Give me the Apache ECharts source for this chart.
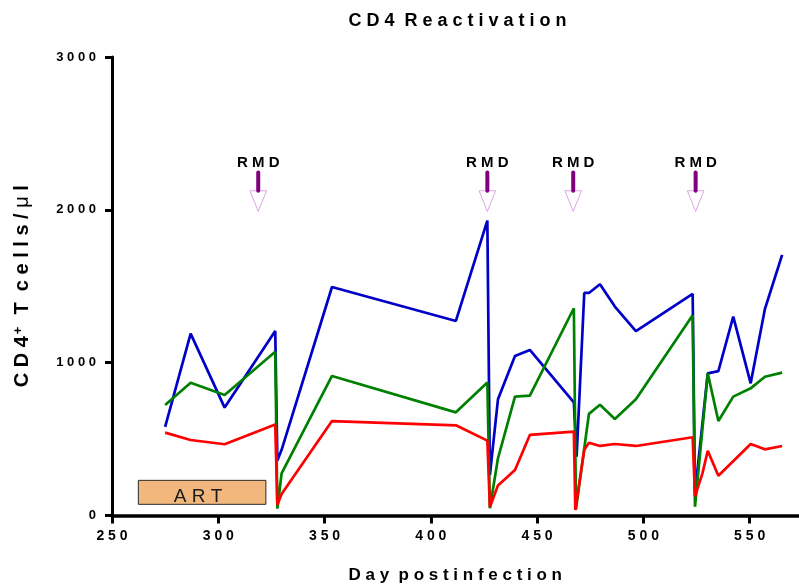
<!DOCTYPE html>
<html>
<head>
<meta charset="utf-8">
<title>CD4 Reactivation</title>
<script src="https://cdn.jsdelivr.net/npm/echarts@6/dist/echarts.min.js"></script>
<style>
  html, body { margin: 0; padding: 0; background: #fff; }
  #chart { width: 799px; height: 587px; }
</style>
</head>
<body>
<div id="chart"></div>
<script>
// CD4+ T cell counts per animal, [day postinfection, cells/µl]
const cd4Blue = [
  [275, 580], [287, 1190], [303, 706], [326.8, 1207], [327.8, 360], [329.8, 430],
  [353.5, 1495], [411.8, 1273], [426.6, 1930], [427.8, 265], [431.6, 760],
  [439.6, 1043], [446.6, 1083], [467.3, 740], [468.6, 385], [472.2, 1456],
  [474.4, 1456], [479.6, 1513], [486.6, 1367], [496.5, 1207], [523.2, 1450],
  [524.3, 145], [530.3, 930], [535.3, 945], [542.3, 1301], [550.5, 865],
  [557.2, 1351], [565.3, 1705]
];
const cd4Green = [
  [275, 723], [287, 869], [303, 789], [326.8, 1072], [327.8, 45], [329.8, 276],
  [353.5, 913], [411.8, 675], [426.6, 870], [427.8, 47], [431.6, 374],
  [439.6, 778], [446.6, 784], [467.3, 1356], [468.3, 40], [474.4, 665],
  [479.6, 725], [486.6, 632], [496.5, 760], [523.2, 1310], [524.3, 58],
  [530.3, 930], [535.3, 618], [542.3, 778], [550.5, 832], [557.2, 908],
  [565.3, 935]
];
const cd4Red = [
  [275, 542], [287, 494], [303, 466], [326.8, 595], [327.8, 70], [329.8, 140],
  [353.5, 618], [411.8, 590], [426.6, 490], [427.8, 55], [431.6, 197],
  [439.6, 298], [446.6, 527], [467.3, 549], [468.0, 36], [472.2, 430],
  [474.4, 476], [479.6, 455], [486.6, 468], [496.5, 455], [523.2, 512],
  [524.3, 125], [527.8, 276], [530.3, 424], [535.3, 260], [550.5, 468],
  [557.2, 433], [565.3, 455]
];

// Treatment annotations
const rmdDays = [318.8, 426.6, 467, 524.6];
const artPeriod = [262.4, 322.4];

// Axis ticks
const xTickStart = 250, xTickStep = 50;
const yTicks = [0, 1000, 2000, 3000];

const FONT = '"Liberation Sans", Arial, Helvetica, sans-serif';
// wide tracking used throughout the figure
const spaced = s => s.split(' ').map(w => w.split('').join(' ')).join('  ');

const chart = echarts.init(document.getElementById('chart'), null, { renderer: 'canvas' });

// vertical placement of the RMD glyph, in axis units
const RMD_LEVELS = { text: 2310, lineTop: 2245, lineBottom: 2125, tip: 1990 };

const lineSeries = (data, color) => ({
  type: 'line',
  data: data,
  symbol: 'none',
  lineStyle: { color: color, width: 2.7 },
  z: 3,
  silent: true
});

chart.setOption({
  animation: false,
  backgroundColor: '#fff',
  title: {
    text: spaced('CD4 Reactivation'),
    left: 452.5,
    top: 7,
    textAlign: 'center',
    textStyle: { fontFamily: FONT, fontSize: 18, fontWeight: 'bold', color: '#000' }
  },
  grid: { left: 112, right: 0.5, top: 57, bottom: 71.5, outerBoundsMode: 'none' },
  xAxis: {
    type: 'value',
    min: xTickStart,
    max: 573,
    interval: xTickStep,
    name: spaced('Day postinfection'),
    nameLocation: 'middle',
    nameGap: 51,
    nameTextStyle: { fontFamily: FONT, fontSize: 17, fontWeight: 'bold', color: '#000' },
    axisLine: { onZero: false, lineStyle: { color: '#000', width: 3.5 } },
    axisTick: { length: 8, lineStyle: { color: '#000', width: 3 } },
    axisLabel: {
      margin: 14,
      showMaxLabel: false,
      fontFamily: FONT, fontSize: 14, fontWeight: 'bold', color: '#000',
      formatter: v => spaced(String(v))
    },
    splitLine: { show: false }
  },
  yAxis: {
    type: 'value',
    min: yTicks[0],
    max: yTicks[yTicks.length - 1],
    interval: yTicks[1] - yTicks[0],
    name: '{b|' + spaced('CD4') + '}{sup|+}{b|  ' + spaced('T cells/') + ' }{mu|μ}{b| l}',
    nameLocation: 'middle',
    nameGap: 80,
    nameRotate: 90,
    nameTextStyle: {
      rich: {
        b: { fontFamily: FONT, fontSize: 20, fontWeight: 'bold', color: '#000' },
        sup: { fontFamily: FONT, fontSize: 13, fontWeight: 'bold', color: '#000', verticalAlign: 'top', padding: [0, 1, 0, 2] },
        mu: { fontFamily: FONT, fontSize: 20, fontWeight: 'normal', color: '#000' }
      }
    },
    axisLine: { show: true, lineStyle: { color: '#000', width: 3 } },
    axisTick: { show: true, length: 7, lineStyle: { color: '#000', width: 3 } },
    axisLabel: {
      margin: 16,
      fontFamily: FONT, fontSize: 13, fontWeight: 'bold', color: '#000',
      formatter: v => spaced(String(v))
    },
    splitLine: { show: false }
  },
  series: [
    lineSeries(cd4Blue, '#0000c8'),
    lineSeries(cd4Green, '#008000'),
    lineSeries(cd4Red, '#ff0000'),
    {
      type: 'custom',
      data: rmdDays.map(d => [d, 0]),
      z: 5,
      silent: true,
      renderItem: (params, api) => {
        const day = api.value(0);
        const x = api.coord([day, 0])[0];
        const yOf = v => api.coord([day, v])[1];
        const yText = yOf(RMD_LEVELS.text);
        const yLineTop = yOf(RMD_LEVELS.lineTop);
        const yLineBottom = yOf(RMD_LEVELS.lineBottom);
        const yTip = yOf(RMD_LEVELS.tip);
        const half = 8.3;
        return {
          type: 'group',
          children: [
            {
              type: 'polygon',
              shape: { points: [[x - half, yLineBottom], [x + half, yLineBottom], [x, yTip]] },
              style: { fill: '#fff', stroke: '#dba6e3', lineWidth: 1 }
            },
            {
              type: 'line',
              shape: { x1: x, y1: yLineTop, x2: x, y2: yLineBottom },
              style: { stroke: '#80007f', lineWidth: 4, lineCap: 'round' }
            },
            {
              type: 'text',
              style: {
                text: 'R M D',
                x: x, y: yText,
                align: 'center', verticalAlign: 'middle',
                font: 'bold 15px ' + FONT,
                fill: '#000'
              }
            }
          ]
        };
      },
      markArea: {
        silent: true,
        itemStyle: { color: '#f2b77c', borderColor: '#2b2b2b', borderWidth: 1 },
        label: {
          show: true,
          position: 'insideBottom',
          distance: -1,
          offset: [-4, 0],
          formatter: 'A R T',
          fontFamily: FONT, fontSize: 19, color: '#1a1a1a'
        },
        data: [[
          { xAxis: artPeriod[0], yAxis: 73 },
          { xAxis: artPeriod[1], yAxis: 230 }
        ]]
      }
    }
  ]
});
</script>
</body>
</html>
